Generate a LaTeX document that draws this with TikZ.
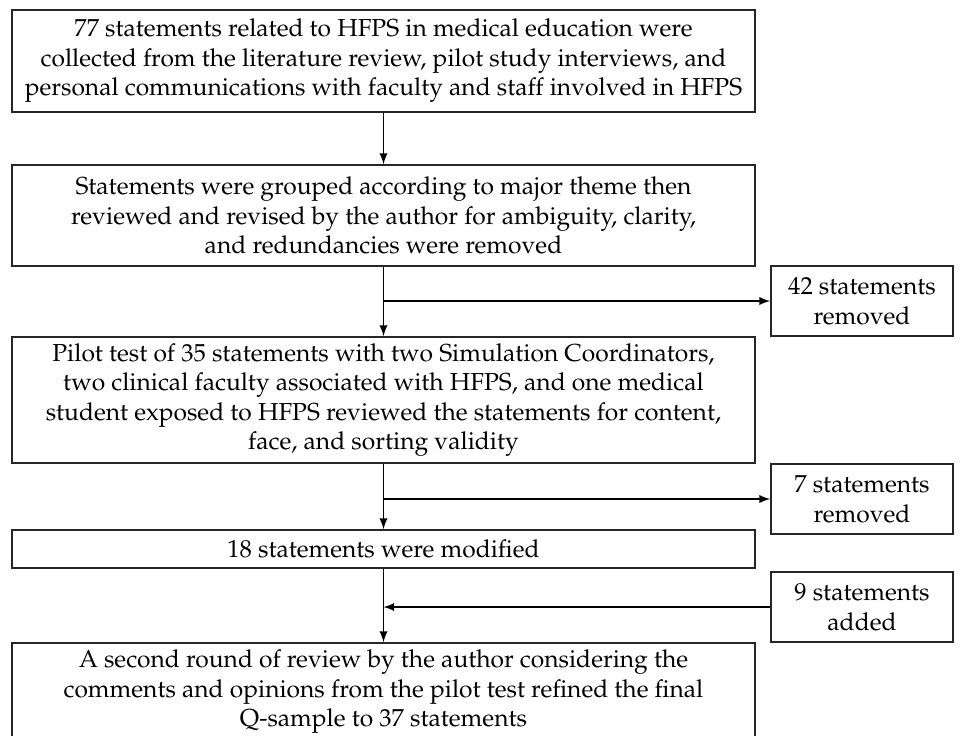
\documentclass[tikz,border=0pt]{standalone}
\usepackage[T1]{fontenc}
\usepackage{mathpazo}
\usetikzlibrary{arrows}

\begin{document}
\begin{tikzpicture}[->,>=latex,x=0.5pt,y=-0.5pt,line width=0.85pt,
	font=\fontsize{12.3}{14.75}\selectfont]
	\tikzstyle{every node}=[draw=black!85,align=center,inner sep=0pt,-]
	\tikzstyle{mainbox}=[minimum width=371.5pt]
	\tikzstyle{sidebox}=[minimum width=91pt,minimum height=35pt]
	\clip (0,0) rectangle (963,735);
	\node[mainbox,minimum height=51pt] (s1) at (383.5,61) {77 statements related to HFPS in medical education were\\collected from the literature review, pilot study interviews, and\\personal communications with faculty and staff involved in HFPS};
	\node[mainbox,minimum height=50.5pt] (s2) at (383.5,215.5) {Statements were grouped according to major theme then\\reviewed and revised by the author for ambiguity, clarity,\\and redundancies were removed};
	\node[sidebox] (r1) at (862,301) {42 statements\\removed};
	\node[mainbox,minimum height=63pt] (s3) at (383.5,400) {Pilot test of 35 statements with two Simulation Coordinators,\\two clinical faculty associated with HFPS, and one medical\\student exposed to HFPS reviewed the statements for content,\\face, and sorting validity};
	\node[sidebox] (r2) at (862,499) {7 statements\\removed};
	\node[mainbox,minimum height=19pt] (s4) at (383.5,549) {18 statements were modified};
	\node[sidebox] (r3) at (862,607) {9 statements\\added};
	\node[mainbox,minimum height=49pt] (s5) at (383.5,692) {A second round of review by the author considering the\\comments and opinions from the pilot test refined the final\\Q-sample to 37 statements};

	\path (s1) edge (s2);
	\path (s2) edge (s3);
	\path (s3) edge (s4);
	\path (s4) edge (s5);

	\draw (r1.west -| s2.south) -- (r1.west);
	\draw (r2.west -| s3.south) -- (r2.west);
	\draw (r3.west) -- (r3.west -| s4.south);
\end{tikzpicture}
\end{document}
